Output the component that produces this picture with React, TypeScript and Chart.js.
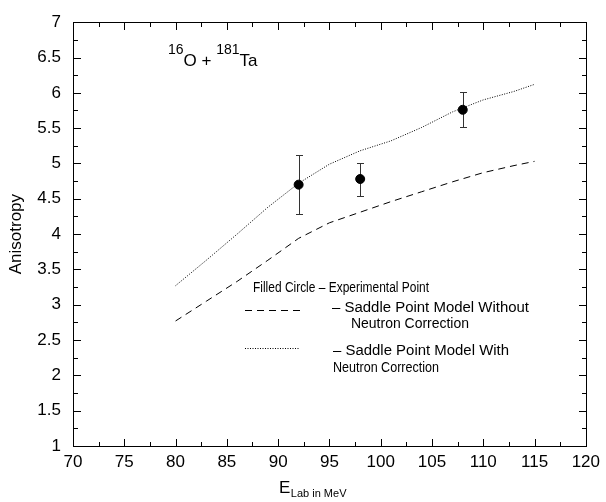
import React, { useEffect, useRef } from "react";
import { Chart, registerables } from "chart.js";

Chart.register(...registerables);

// ---- data ----
const energyModel = [80, 83, 86, 89, 92, 95, 98, 101, 104, 107, 110, 113, 115];
const withNeutron = [3.27, 3.63, 4.0, 4.38, 4.72, 4.99, 5.18, 5.32, 5.51, 5.73, 5.9, 6.02, 6.12];
const withoutNeutron = [2.77, 3.05, 3.33, 3.63, 3.94, 4.16, 4.31, 4.46, 4.6, 4.74, 4.87, 4.97, 5.03];
const energyExp = [92, 98, 108];
const anisotropyExp = [4.7, 4.78, 5.76];
const errLow = [4.29, 4.54, 5.51];
const errHigh = [5.12, 5.01, 6.01];
const xTickValues = [70, 75, 80, 85, 90, 95, 100, 105, 110, 115, 120];
const yTickValues = [1, 1.5, 2, 2.5, 3, 3.5, 4, 4.5, 5, 5.5, 6, 6.5, 7];
const yTickLabels = ["1", "1.5", "2", "2.5", "3", "3.5", "4", "4.5", "5", "5.5", "6", "6.5", "7"];

const yTitle = "Anisotropy";
const xTitleMain = "E";
const xTitleSub = "Lab in MeV";
const legendLine1 = "Filled Circle \u2013 Experimental Point";
const legendDashed = ["\u2013 Saddle Point Model Without", "Neutron Correction"];
const legendDotted = ["\u2013 Saddle Point Model With", "Neutron Correction"];

const FONT = '"Liberation Sans", Arial, Helvetica, sans-serif';
const f = (s: number) => `${s}px ${FONT}`;

function fitText(ctx: CanvasRenderingContext2D, text: string, x: number, y: number, size: number, width: number) {
  ctx.save();
  ctx.font = f(size);
  const w = ctx.measureText(text).width;
  const sx = w > 0 ? width / w : 1;
  ctx.translate(x, y);
  ctx.scale(sx, 1);
  ctx.fillText(text, 0, 0);
  ctx.restore();
}

function drawFrameAndTicks(chart: any) {
  const ctx = chart.ctx as CanvasRenderingContext2D;
  const a = chart.chartArea;
  const xs = chart.scales.x;
  const ys = chart.scales.y;
  const L = Math.round(a.left);
  const R = Math.round(a.right);
  const T = Math.round(a.top);
  const B = Math.round(a.bottom);
  ctx.save();
  ctx.setLineDash([]);
  ctx.globalAlpha = 1;
  ctx.fillStyle = "#000";
  ctx.fillRect(L, T, R - L + 1, 1);
  ctx.fillRect(L, B, R - L + 1, 1);
  ctx.fillRect(L, T, 1, B - T + 1);
  ctx.fillRect(R, T, 1, B - T + 1);
  for (let i = 0; i < xTickValues.length; i++) {
    const vals = [xTickValues[i]];
    if (i < xTickValues.length - 1) vals.push((xTickValues[i] + xTickValues[i + 1]) / 2);
    for (let k = 0; k < vals.length; k++) {
      const len = k === 0 ? 7 : 4;
      const px = Math.round(xs.getPixelForValue(vals[k]));
      ctx.fillRect(px, B - len, 1, len);
      ctx.fillRect(px, T + 1, 1, len);
    }
  }
  for (let i = 0; i < yTickValues.length; i++) {
    const vals = [yTickValues[i]];
    if (i < yTickValues.length - 1) vals.push((yTickValues[i] + yTickValues[i + 1]) / 2);
    for (let k = 0; k < vals.length; k++) {
      const len = k === 0 ? 7 : 4;
      const py = Math.round(ys.getPixelForValue(vals[k]));
      ctx.fillRect(L + 1, py, len, 1);
      ctx.fillRect(R - len, py, len, 1);
    }
  }
  ctx.restore();
}

const errorBarPlugin = {
  id: "errorBars",
  beforeDatasetsDraw(chart: any) {
    const ctx = chart.ctx as CanvasRenderingContext2D;
    const xs = chart.scales.x;
    const ys = chart.scales.y;
    ctx.save();
    ctx.fillStyle = "#333";
    for (let i = 0; i < energyExp.length; i++) {
      const px = Math.round(xs.getPixelForValue(energyExp[i]));
      const yl = Math.round(ys.getPixelForValue(errLow[i]));
      const yh = Math.round(ys.getPixelForValue(errHigh[i]));
      ctx.fillRect(px, yh, 1, yl - yh + 1);
      ctx.fillRect(px - 3, yh, 7, 1);
      ctx.fillRect(px - 3, yl, 7, 1);
    }
    ctx.restore();
  },
};

const overlayPlugin = {
  id: "overlay",
  afterDraw(chart: any) {
    const ctx = chart.ctx as CanvasRenderingContext2D;
    const a = chart.chartArea;
    ctx.save();
    ctx.fillStyle = "#000";
    // y title
    ctx.save();
    ctx.translate(21, (a.top + a.bottom) / 2);
    ctx.rotate(-Math.PI / 2);
    ctx.font = f(17);
    ctx.textAlign = "center";
    ctx.textBaseline = "alphabetic";
    ctx.fillText(yTitle, 0, 0);
    ctx.restore();

    // x title with subscript
    ctx.textAlign = "left";
    ctx.textBaseline = "alphabetic";
    ctx.font = f(17);
    const ex = 279;
    ctx.fillText(xTitleMain, ex, 493);
    const ew = ctx.measureText(xTitleMain).width;
    ctx.font = f(11);
    ctx.fillText(xTitleSub, ex + ew + 0.5, 497);

    // reaction annotation
    const segs: [string, boolean][] = [["16", true], ["O", false], [" + ", false], ["181", true], ["Ta", false]];
    let ax = 168;
    segs.forEach(([t, sup]) => {
      ctx.font = f(sup ? 14 : 17);
      ctx.fillText(t, ax, sup ? 54 : 66);
      ax += ctx.measureText(t).width;
    });

    // legend texts
    fitText(ctx, legendLine1, 253, 292, 14, 176);
    fitText(ctx, legendDashed[0], 332, 312, 14, 197);
    fitText(ctx, legendDashed[1], 351, 328, 14, 118);
    fitText(ctx, legendDotted[0], 333, 355, 14, 176);
    fitText(ctx, legendDotted[1], 333, 372, 14, 106);

    // legend samples
    ctx.strokeStyle = "#000";
    ctx.lineWidth = 1;
    ctx.beginPath();
    ctx.setLineDash([7, 5]);
    ctx.moveTo(245, 310.5);
    ctx.lineTo(302, 310.5);
    ctx.stroke();
    ctx.beginPath();
    ctx.setLineDash([1, 1.5]);
    ctx.moveTo(245, 348.5);
    ctx.lineTo(300, 348.5);
    ctx.stroke();
    ctx.setLineDash([]);
    ctx.restore();

    drawFrameAndTicks(chart);
  },
};

export default function App() {
  const ref = useRef<HTMLCanvasElement | null>(null);
  useEffect(() => {
    if (!ref.current) return;
    const toPts = (xs: number[], ys: number[]) => xs.map((x, i) => ({ x, y: ys[i] }));
    const chart = new Chart(ref.current, {
      type: "scatter",
      data: {
        datasets: [
          {
            label: "Saddle Point Model With Neutron Correction",
            data: toPts(energyModel, withNeutron),
            showLine: true,
            borderColor: "#000",
            borderWidth: 1,
            borderDash: [1, 1.5],
            pointRadius: 0,
            tension: 0,
          },
          {
            label: "Saddle Point Model Without Neutron Correction",
            data: toPts(energyModel, withoutNeutron),
            showLine: true,
            borderColor: "#000",
            borderWidth: 1,
            borderDash: [7, 5],
            pointRadius: 0,
            tension: 0,
          },
          {
            label: "Experimental Point",
            data: toPts(energyExp, anisotropyExp),
            showLine: false,
            pointRadius: 4.5,
            pointBackgroundColor: "#000",
            pointBorderColor: "#000",
            pointBorderWidth: 1,
          },
        ],
      },
      options: {
        animation: false,
        responsive: false,
        layout: { padding: { left: 0, right: 16, top: 15, bottom: 0 } },
        plugins: { legend: { display: false }, tooltip: { enabled: false } },
        scales: {
          x: {
            type: "linear",
            min: 70,
            max: 120,
            grid: { display: false, drawTicks: false },
            border: { display: true, color: "#000", width: 1 },
            afterBuildTicks: (s: any) => {
              s.ticks = xTickValues.map((v) => ({ value: v }));
            },
            afterFit: (s: any) => {
              s.height = 56;
            },
            ticks: {
              color: "#000",
              font: { family: FONT, size: 17 },
              padding: 6,
              maxRotation: 0,
              autoSkip: false,
              callback: (v: any) => String(v),
            },
          },
          y: {
            type: "linear",
            min: 1,
            max: 7,
            grid: { display: false, drawTicks: false },
            border: { display: true, color: "#000", width: 1 },
            afterBuildTicks: (s: any) => {
              s.ticks = yTickValues.map((v) => ({ value: v }));
            },
            afterFit: (s: any) => {
              s.width = 73;
            },
            ticks: {
              color: "#000",
              font: { family: FONT, size: 17 },
              padding: 12,
              autoSkip: false,
              callback: (v: any) => {
                const i = yTickValues.indexOf(Number(v));
                return i >= 0 ? yTickLabels[i] : String(v);
              },
            },
          },
        },
      },
      plugins: [errorBarPlugin, overlayPlugin],
    } as any);
    return () => chart.destroy();
  }, []);
  return (
    <canvas
      ref={ref}
      width={606}
      height={502}
      style={{ position: "absolute", left: 0, top: 0, width: 606, height: 502 }}
    />
  );
}
